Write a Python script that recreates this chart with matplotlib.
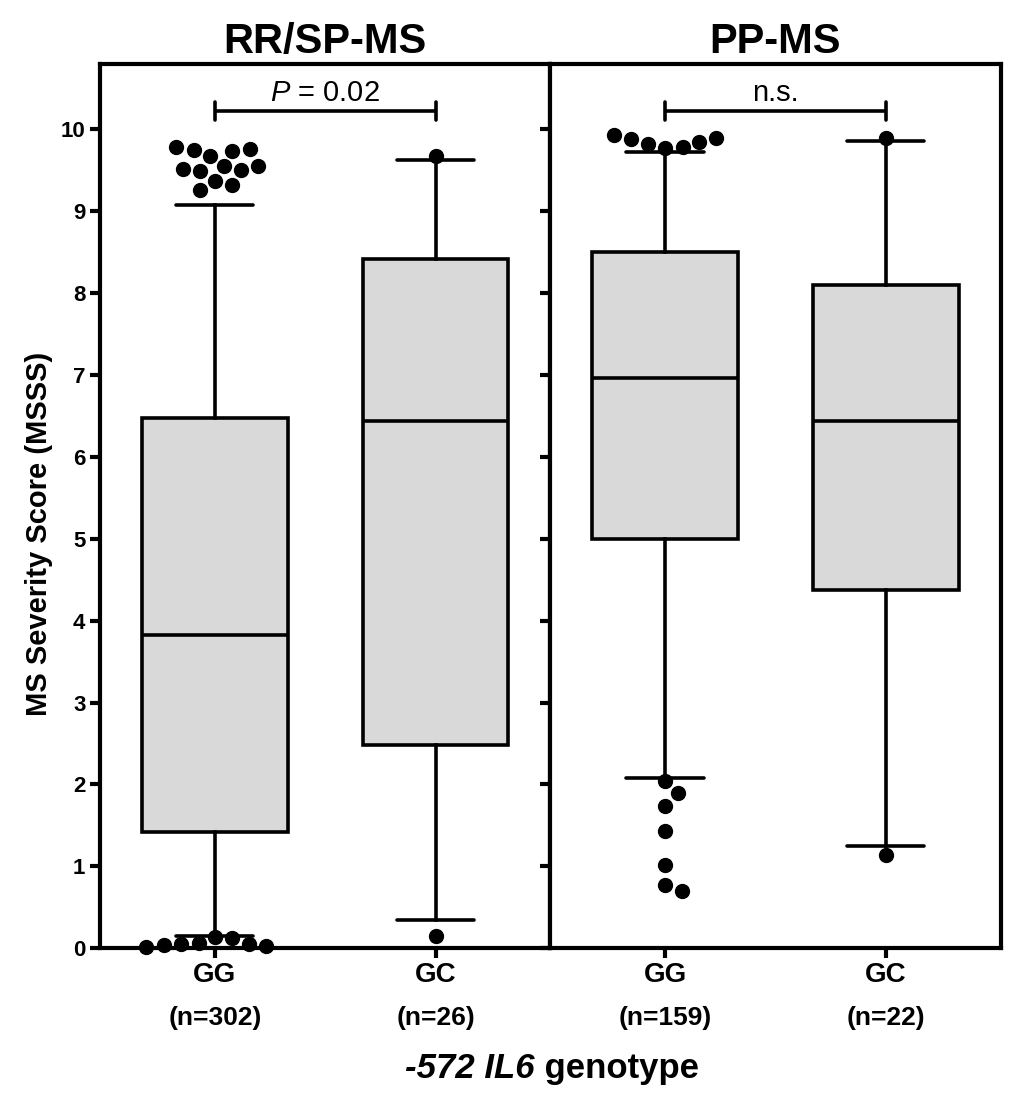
import numpy as np
import matplotlib
matplotlib.use('Agg')
import matplotlib.pyplot as plt
import matplotlib.transforms as mtrans

#%% Datos
groups = ['RR/SP-MS', 'PP-MS']
genotypes = ['GG', 'GC']
n_labels = [['(n=302)', '(n=26)'], ['(n=159)', '(n=22)']]

# cuartiles y bigotes: [GG, GC]
q1_rr = [1.42, 2.48]
med_rr = [3.82, 6.44]
q3_rr = [6.48, 8.42]
wlo_rr = [0.15, 0.34]
whi_rr = [9.08, 9.62]

q1_pp = [5.00, 4.37]
med_pp = [6.96, 6.44]
q3_pp = [8.50, 8.10]
wlo_pp = [2.08, 1.25]
whi_pp = [9.72, 9.86]

# outliers
out_rr_gg = [9.78, 9.74, 9.75, 9.76, 9.68, 9.55, 9.50, 9.49, 9.51, 9.55, 9.32, 9.26, 9.37,
             0.12, 0.14, 0.05, 0.03, 0.06, 0.04, 0.02, 0.05]
out_rr_gc = [9.67, 0.15]
out_pp_gg = [9.90, 9.85, 9.77, 9.78, 9.82, 9.88, 9.93,
             2.04, 1.90, 1.74, 1.43, 1.02, 0.77, 0.70]
out_pp_gc = [9.90, 1.14]

p_texts = [r'$\mathsf{P}$ = 0.02', 'n.s.']

#%% Estilo
plt.rcParams['font.family'] = ['Liberation Sans', 'DejaVu Sans']
plt.rcParams['mathtext.fontset'] = 'custom'
plt.rcParams['mathtext.rm'] = 'Liberation Sans'
plt.rcParams['mathtext.it'] = 'Liberation Sans:italic'
plt.rcParams['mathtext.sf'] = 'Liberation Sans:italic'
plt.rcParams['mathtext.bf'] = 'Liberation Sans:bold'

fig = plt.figure(figsize=(10.24, 11), dpi=100)
axL = fig.add_axes([0.0977, 0.138, 0.4397, 0.804])
axR = fig.add_axes([0.0977 + 0.4397, 0.138, 0.4397, 0.804], sharey=axL)


def swarm(vals, ax, center, spacing=17.5):
    # coloca puntos sin solaparse (tipo beeswarm), en pixeles
    vals = np.asarray(vals, dtype=float)
    order = np.argsort(np.abs(vals - np.median(vals)))
    yp = ax.transData.transform(np.column_stack([np.full(len(vals), center), vals]))[:, 1]
    x0 = ax.transData.transform((center, 0))[0]
    x1 = ax.transData.transform((center + 1, 0))[0]
    pxu = x1 - x0
    placed = []
    offs = np.zeros(len(vals))
    for i in order:
        y = yp[i]
        cands = [0.0]
        for (px, py) in placed:
            dy = y - py
            if abs(dy) < spacing:
                dx = np.sqrt(spacing**2 - dy**2)
                cands += [px + dx, px - dx]
        ok = [c for c in cands
              if all((c - px)**2 + (y - py)**2 >= spacing**2 - 1e-6 for px, py in placed)]
        best = min(ok, key=abs)
        placed.append((best, y))
        offs[i] = best / pxu
    return center + offs, vals


panels = [
    (axL, q1_rr, med_rr, q3_rr, wlo_rr, whi_rr, [out_rr_gg, out_rr_gc]),
    (axR, q1_pp, med_pp, q3_pp, wlo_pp, whi_pp, [out_pp_gg, out_pp_gc]),
]

for k, (ax, q1, med, q3, wlo, whi, outs) in enumerate(panels):
    ax.set_xlim(0.48, 2.52)
    ax.set_ylim(0, 10.8)
    stats = []
    for j in range(2):
        stats.append(dict(q1=q1[j], med=med[j], q3=q3[j], whislo=wlo[j], whishi=whi[j], fliers=[]))
    ax.bxp(stats, positions=[1, 2], widths=0.66, patch_artist=True, showfliers=False,
           boxprops=dict(facecolor='#d9d9d9', edgecolor='black', linewidth=2.6),
           medianprops=dict(color='black', linewidth=2.6),
           whiskerprops=dict(color='black', linewidth=2.6),
           capprops=dict(color='black', linewidth=2.6, solid_capstyle='round'),
           capwidths=0.35, manage_ticks=False)
    for j in range(2):
        xs, ys = swarm(outs[j], ax, j + 1)
        ax.plot(xs, ys, 'o', color='black', markersize=10, clip_on=False, zorder=4)

    # corchete de significancia
    yb = 10.22
    ax.plot([1, 2], [yb, yb], color='black', lw=2.6, solid_capstyle='butt')
    ax.plot([1, 1], [yb - 0.11, yb + 0.11], color='black', lw=2.6, solid_capstyle='round')
    ax.plot([2, 2], [yb - 0.11, yb + 0.11], color='black', lw=2.6, solid_capstyle='round')
    ax.text(1.5, yb + 0.05, p_texts[k], ha='center', va='bottom', fontsize=21)

    ax.set_title(groups[k], fontsize=30, fontweight='bold', pad=8)
    for s in ax.spines.values():
        s.set_linewidth(3)
    ax.set_xticks([1, 2])
    ax.set_xticklabels(genotypes, fontsize=20, fontweight='bold')
    ax.tick_params(axis='x', direction='out', length=7, width=3, pad=3)
    ax.tick_params(axis='y', direction='out', length=7, width=3, labelsize=16)
    ax.tick_params(top=False, right=False)
    trans = mtrans.blended_transform_factory(ax.transData, ax.transAxes)
    for j in range(2):
        ax.text(j + 1, -0.079, n_labels[k][j], transform=trans, ha='center', va='center',
                fontsize=19, fontweight='bold')

axL.set_yticks(np.arange(0, 11, 1))
for lab in axL.get_yticklabels():
    lab.set_fontweight('bold')
plt.setp(axR.get_yticklabels(), visible=False)

axL.set_ylabel('MS Severity Score (MSSS)', fontsize=21, fontweight='bold')
axL.yaxis.set_label_coords(-0.105, 0.468)

# titulo del eje x: parte en cursiva + parte normal
t1 = fig.text(0.522, 0.029, '-572 IL6', ha='right', va='center',
              fontsize=25, fontweight='bold', fontstyle='italic')
axL.annotate(' genotype', xy=(1, 0), xycoords=t1, ha='left', va='bottom',
             fontsize=25, fontweight='bold', annotation_clip=False)

fig.savefig('out.png', dpi=100)
